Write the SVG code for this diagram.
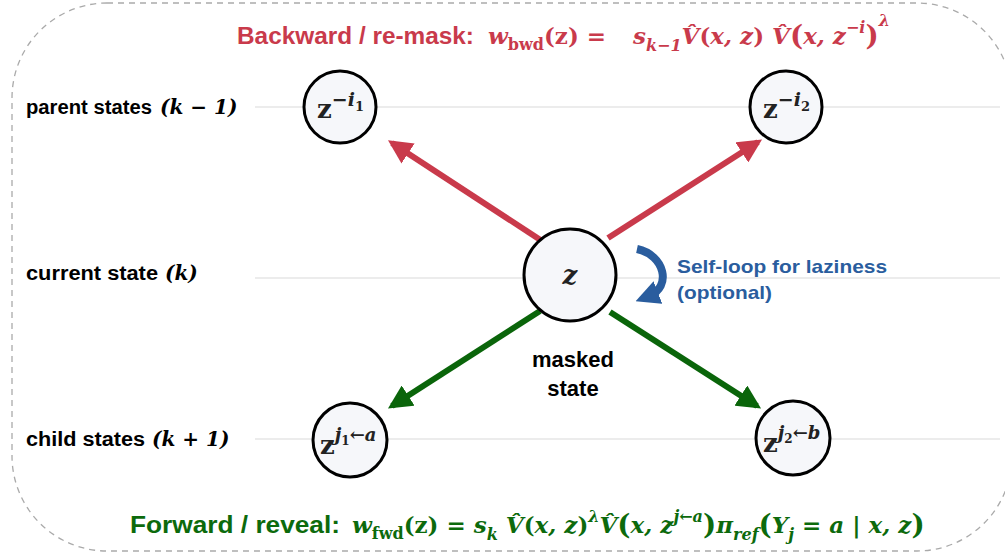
<svg xmlns="http://www.w3.org/2000/svg" width="1005" height="557" viewBox="0 0 1005 557">
<defs>
<style>
.lbl{font-family:"Liberation Sans",Arial,sans-serif;font-weight:bold;font-size:20px;fill:#000}
.m{font-family:"DejaVu Serif","Liberation Serif",serif;font-style:italic;font-weight:bold}
.up{font-style:normal}
.node{fill:#f6f7fa;stroke:#000;stroke-width:3}
.nt{font-family:"DejaVu Serif","Liberation Serif",serif;font-weight:bold;font-size:26px;fill:#222}
.it{font-style:italic}
.guide{stroke:#d9d9d9;stroke-width:1.2}
.red{fill:#c93a4b}
.green{fill:#0c6a0c}
.blue{font-family:"Liberation Sans",Arial,sans-serif;font-weight:bold;font-size:19px;fill:#2a5d9e}
.ann{font-family:"Liberation Sans",Arial,sans-serif;font-weight:bold;font-size:22px;fill:#000}
</style>
<marker id="ar" viewBox="0 0 10 10" refX="8" refY="5" markerWidth="4" markerHeight="4" orient="auto" markerUnits="strokeWidth"><path d="M0,0 L10,5 L0,10 z" fill="#c93a4b"/></marker>
<marker id="ag" viewBox="0 0 10 10" refX="8" refY="5" markerWidth="4" markerHeight="4" orient="auto" markerUnits="strokeWidth"><path d="M0,0 L10,5 L0,10 z" fill="#0a650a"/></marker>
<marker id="ab" viewBox="0 0 10 10" refX="4" refY="5" markerWidth="3" markerHeight="3" orient="auto" markerUnits="strokeWidth"><path d="M0,0 L10,5 L0,10 z" fill="#2a5d9e"/></marker>
</defs>
<rect x="12" y="3" width="1000" height="548" rx="95" ry="95" fill="none" stroke="#aaaaaa" stroke-width="1.3" stroke-dasharray="6,5"/>
<g id="guides">
<line class="guide" x1="255" y1="107" x2="1000" y2="107"/>
<line class="guide" x1="255" y1="278" x2="1000" y2="278"/>
<line class="guide" x1="255" y1="439" x2="1000" y2="439"/>
</g>
<g id="row-labels">
<text class="lbl" x="26" y="114" textLength="126" lengthAdjust="spacingAndGlyphs">parent states</text>
<text class="lbl m" font-size="21" x="160" y="114">(k − 1)</text>
<text class="lbl" x="26" y="280" textLength="132" lengthAdjust="spacingAndGlyphs">current state</text>
<text class="lbl m" font-size="21" x="165" y="280">(k)</text>
<text class="lbl" x="26" y="446" textLength="119" lengthAdjust="spacingAndGlyphs">child states</text>
<text class="lbl m" font-size="21" x="152" y="446">(k + 1)</text>
</g>
<g id="connectors" fill="none">
<line x1="542" y1="241" x2="392" y2="143" stroke="#c93a4b" stroke-width="6" marker-end="url(#ar)"/>
<line x1="608" y1="238" x2="758" y2="142" stroke="#c93a4b" stroke-width="6" marker-end="url(#ar)"/>
<line x1="540" y1="311" x2="392" y2="406" stroke="#0a650a" stroke-width="6" marker-end="url(#ag)"/>
<line x1="610" y1="312" x2="757" y2="406" stroke="#0a650a" stroke-width="6" marker-end="url(#ag)"/>
<path d="M637,249 C665,255 672,287 649,296" stroke="#2a5d9e" stroke-width="8" marker-end="url(#ab)"/>
</g>
<g id="node-parent1">
<circle class="node" cx="340" cy="107" r="36"/>
<text class="nt" x="317" y="118">z<tspan class="it" font-size="19" dy="-12">−i</tspan><tspan font-size="13" dy="5">1</tspan></text>
</g>
<g id="node-parent2">
<circle class="node" cx="786" cy="107" r="36"/>
<text class="nt" x="763" y="118">z<tspan class="it" font-size="19" dy="-12">−i</tspan><tspan font-size="13" dy="5">2</tspan></text>
</g>
<g id="node-current">
<circle class="node" cx="570" cy="275" r="46"/>
<text class="nt it" x="570" y="284" text-anchor="middle">z</text>
</g>
<g id="node-child1">
<circle class="node" cx="350" cy="440" r="37"/>
<text class="nt" x="320" y="454">z<tspan class="it" font-size="18" dy="-13">j</tspan><tspan font-size="12" dy="4">1</tspan><tspan class="it" font-size="18" dy="-4">←a</tspan></text>
</g>
<g id="node-child2">
<circle class="node" cx="793" cy="438" r="37"/>
<text class="nt" x="763" y="452">z<tspan class="it" font-size="18" dy="-13">j</tspan><tspan font-size="12" dy="4">2</tspan><tspan class="it" font-size="18" dy="-4">←b</tspan></text>
</g>
<g id="annotations">
<text class="ann" text-anchor="middle" x="573" y="367">masked</text>
<text class="ann" text-anchor="middle" x="573" y="396">state</text>
<text class="blue" x="677" y="273" textLength="210" lengthAdjust="spacingAndGlyphs">Self-loop for laziness</text>
<text class="blue" x="677" y="299" textLength="95" lengthAdjust="spacingAndGlyphs">(optional)</text>
</g>
<g id="title-top">
<text class="red" font-family="Liberation Sans,Arial,sans-serif" font-weight="bold" font-size="23" x="237" y="44" textLength="237" lengthAdjust="spacingAndGlyphs">Backward / re-mask:</text>
<text class="red m" font-size="23" y="44"><tspan x="488">w</tspan><tspan class="up" font-size="16" dy="6">bwd</tspan><tspan class="up" dy="-6">(z) = </tspan><tspan x="633">s</tspan><tspan font-size="16" dy="7">k−1</tspan><tspan dy="-7">V̂</tspan><tspan class="up">(</tspan>x, z<tspan class="up">) </tspan>V̂<tspan class="up" font-size="28" dy="1">(</tspan><tspan dy="-1">x, z</tspan><tspan font-size="16" dy="-11">−i</tspan><tspan class="up" font-size="28" dy="12">)</tspan><tspan font-size="16" dy="-19">λ</tspan></text>
</g>
<g id="title-bottom">
<text class="green" font-family="Liberation Sans,Arial,sans-serif" font-weight="bold" font-size="23" x="130" y="533" textLength="210" lengthAdjust="spacingAndGlyphs">Forward / reveal:</text>
<text class="green m" font-size="23" y="533"><tspan x="352">w</tspan><tspan class="up" font-size="16" dy="6">fwd</tspan><tspan class="up" dy="-6">(z) = </tspan>s<tspan font-size="16" dy="7">k</tspan><tspan dy="-7"> V̂</tspan><tspan class="up">(</tspan>x, z<tspan class="up">)</tspan><tspan font-size="16" dy="-11">λ</tspan><tspan dy="11">V̂</tspan><tspan class="up" font-size="28" dy="1">(</tspan><tspan dy="-1">x, z</tspan><tspan font-size="16" dy="-11">j←a</tspan><tspan class="up" font-size="28" dy="12">)</tspan><tspan dy="-1">π</tspan><tspan font-size="16" dy="7">ref</tspan><tspan class="up" font-size="28" dy="-6">(</tspan><tspan dy="-1">Y</tspan><tspan font-size="16" dy="7">j</tspan><tspan class="up" dy="-7"> = </tspan>a<tspan class="up"> | </tspan>x, z<tspan class="up" font-size="28" dy="1">)</tspan></text>
</g>
</svg>
